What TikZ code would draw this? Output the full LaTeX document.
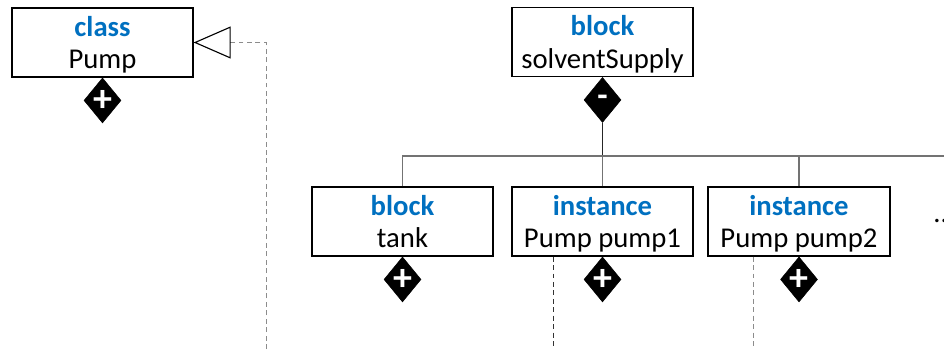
\documentclass[tikz,border=0pt]{standalone}
\usepackage{fontspec}
\setmainfont{Carlito}
\usetikzlibrary{shapes.geometric,arrows.meta}
\definecolor{kwblue}{RGB}{0,112,192}
\newcommand{\umlstrut}{\rule[-3.6pt]{0pt}{21.6pt}}
\newcommand{\umlhead}[2]{\textbf{\color{kwblue}#1}\umlstrut\\#2\umlstrut}
\newcommand{\aggsign}[1]{\makebox[0pt]{\raisebox{-.3em}[0pt][0pt]{#1}}}

\begin{document}
\begin{tikzpicture}[x=0.025cm,y=-0.025cm,
		umlbox/.style={draw,line width=0.9pt,minimum width=4.525cm,minimum height=1.725cm,align=center,inner sep=0pt,font=\fontsize{20.4}{23}\selectfont},
		agg/.style={diamond,fill=black,draw=black,minimum width=0.925cm,minimum height=1.125cm,inner sep=0pt,anchor=north,text=white,font=\fontsize{27}{27}\selectfont\bfseries},
		bus/.style={draw=black!55,line width=0.8pt},
		stem/.style={draw=black!85,line width=1.2pt},
		gen/.style={draw=black!45,line width=0.7pt,dash pattern=on 3.5pt off 2.5pt,-{Triangle[open,length=0.925cm,width=0.8cm,line width=0.8pt,color=black]}},
		life/.style={line width=0.7pt,dash pattern=on 3.5pt off 2.5pt}]
		\useasboundingbox (0,0) rectangle (944,349);
		\node[umlbox] (Pump) at (102.5,42.5) {\umlhead{class}{Pump}};
		\node[umlbox] (solventSupply) at (602.5,42) {\umlhead{block}{solventSupply}};
		\node[umlbox] (tank) at (402.5,221.5) {\umlhead{block}{tank}};
		\node[umlbox] (pump1) at (602.5,221.5) {\umlhead{instance}{Pump pump1}};
		\node[umlbox,minimum width=4.55cm] (pump2) at (799,221.5) {\umlhead{instance}{Pump pump2}};
		\node[anchor=base west,inner sep=0pt,font=\fontsize{20.4}{23}\selectfont] (more) at (933,222) {...};
		
		\node[agg] (Pumpd) at (Pump.south) {\aggsign{+}};
		\node[agg,font=\fontsize{24}{24}\selectfont\bfseries] (solventSupplyd) at (solventSupply.south) {\makebox[0pt]{\raisebox{-.2em}[0pt][0pt]{-}}};
		\node[agg] (tankd) at (tank.south) {\aggsign{+}};
		\node[agg] (pump1d) at (pump1.south) {\aggsign{+}};
		\node[agg] (pump2d) at (pump2.south) {\aggsign{+}};
		
		\coordinate (busR) at (944,156);
		\draw[stem] (solventSupplyd.south) -- (solventSupplyd.south |- busR);
		\draw[bus] (tank.north) |- (busR);
		\draw[bus] (pump1.north) -- (pump1.north |- busR);
		\draw[bus] (pump2.north) -- (pump2.north |- busR);
		
		\coordinate (genend) at (266,349);
		\draw[gen] (genend) |- (Pump.east);
		
		\coordinate (pump1end) at (553,349);
		\coordinate (pump2end) at (753,349);
		\draw[life,draw=black!80] (pump1.south -| pump1end) -- (pump1end);
		\draw[life,draw=black!45] (pump2.south -| pump2end) -- (pump2end);
	\end{tikzpicture}
\end{document}
